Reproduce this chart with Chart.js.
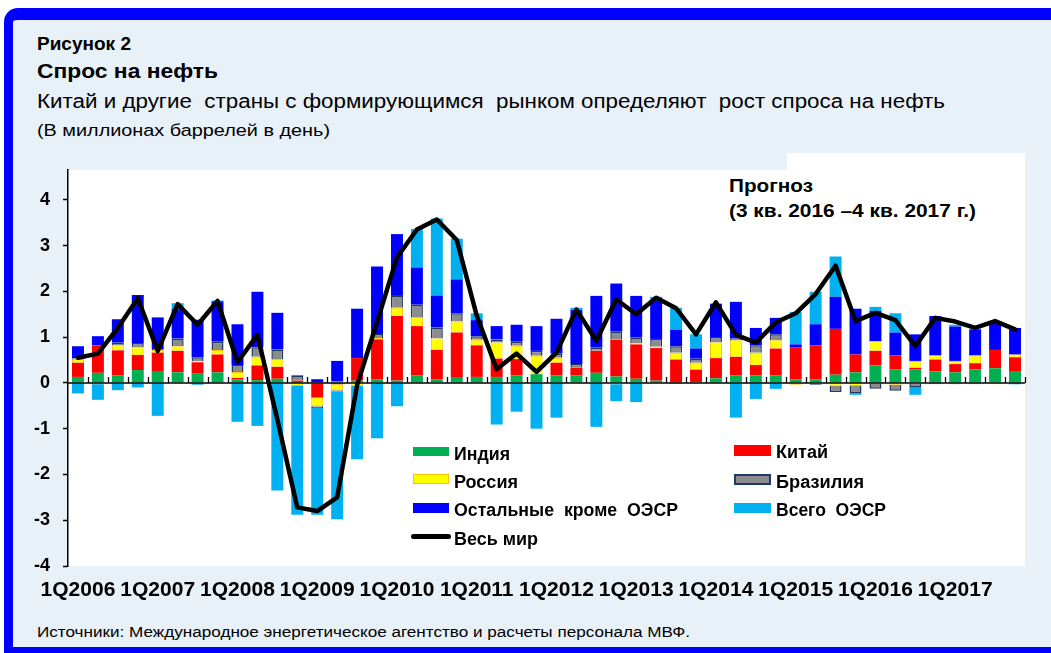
<!DOCTYPE html>
<html>
<head>
<meta charset="utf-8">
<script src="https://cdn.jsdelivr.net/npm/chart.js@4.4.1/dist/chart.umd.min.js"></script>
<style>
  html, body { margin: 0; padding: 0; }
  body { width: 1051px; height: 653px; overflow: hidden; position: relative; background: #ffffff;
         font-family: "Liberation Sans", Arial, sans-serif; color: #000; }
  #frame { position: absolute; left: 4px; top: 8px; width: 1047px; height: 645px; box-sizing: border-box;
           border-top: 12px solid #0000ff; border-left: 9px solid #0000ff; border-bottom: 6px solid #0000ff;
           border-top-left-radius: 14px; background: #e8f0f8; }
  .white { position: absolute; background: #ffffff; }
  .t { position: absolute; white-space: pre; transform-origin: 0 50%; line-height: 1; }
  .b { font-weight: bold; }
  .sw { position: absolute; box-sizing: border-box; }
  canvas { position: absolute; left: 0; top: 0; }
</style>
</head>
<body>
<div id="frame"></div>
<div class="white" style="left:68px;top:170px;width:957px;height:396px;"></div>
<div class="white" style="left:787px;top:153px;width:238px;height:17px;"></div>

<div class="t b" data-w="94"  style="left:37px;top:34.5px;font-size:18px;">Рисунок 2</div>
<div class="t b" data-w="181" style="left:37px;top:59.5px;font-size:21px;">Спрос на нефть</div>
<div class="t"   data-w="908" style="left:37px;top:91px;font-size:20px;">Китай и другие  страны с формирующимся  рынком определяют  рост спроса на нефть</div>
<div class="t"   data-w="293" style="left:37px;top:123px;font-size:16px;">(В миллионах баррелей в день)</div>
<div class="t"   data-w="653" style="left:37px;top:625px;font-size:14px;">Источники: Международное энергетическое агентство и расчеты персонала МВФ.</div>

<div class="t b" data-w="84"  style="left:729px;top:175.5px;font-size:19px;">Прогноз</div>
<div class="t b" data-w="247" style="left:729px;top:200.5px;font-size:19px;">(3 кв. 2016 –4 кв. 2017 г.)</div>

<canvas id="c" width="1051" height="653"></canvas>

<!-- legend -->
<div class="sw" style="left:413px;top:447px;width:36px;height:9px;background:#00b050;"></div>
<div class="t b" data-w="56"  style="left:454px;top:444.5px;font-size:18px;">Индия</div>
<div class="sw" style="left:413px;top:474px;width:36px;height:10px;background:#ffff00;border:1px solid #ffc000;"></div>
<div class="t b" data-w="64"  style="left:454px;top:472.5px;font-size:18px;">Россия</div>
<div class="sw" style="left:413px;top:503px;width:36px;height:10px;background:#0000ff;"></div>
<div class="t b" data-w="224" style="left:454px;top:501px;font-size:18px;">Остальные  кроме  ОЭСР</div>
<div class="sw" style="left:411px;top:534px;width:40px;height:5px;background:#000;border-radius:3px;"></div>
<div class="t b" data-w="84"  style="left:454px;top:529.5px;font-size:18px;">Весь мир</div>

<div class="sw" style="left:734px;top:445px;width:37px;height:11px;background:#ff0000;"></div>
<div class="t b" data-w="52"  style="left:776px;top:442.5px;font-size:18px;">Китай</div>
<div class="sw" style="left:734px;top:474px;width:37px;height:11px;background:#8c8c8c;border:2px solid #1f3864;"></div>
<div class="t b" data-w="88"  style="left:776px;top:472.5px;font-size:18px;">Бразилия</div>
<div class="sw" style="left:734px;top:503px;width:37px;height:10px;background:#00b0f0;"></div>
<div class="t b" data-w="110" style="left:776px;top:501px;font-size:18px;">Всего  ОЭСР</div>

<script>
const categories = [
  '1Q2006','2Q2006','3Q2006','4Q2006','1Q2007','2Q2007','3Q2007','4Q2007',
  '1Q2008','2Q2008','3Q2008','4Q2008','1Q2009','2Q2009','3Q2009','4Q2009',
  '1Q2010','2Q2010','3Q2010','4Q2010','1Q2011','2Q2011','3Q2011','4Q2011',
  '1Q2012','2Q2012','3Q2012','4Q2012','1Q2013','2Q2013','3Q2013','4Q2013',
  '1Q2014','2Q2014','3Q2014','4Q2014','1Q2015','2Q2015','3Q2015','4Q2015',
  '1Q2016','2Q2016','3Q2016','4Q2016','1Q2017','2Q2017','3Q2017','4Q2017'
];
const tickLabels = ['1Q2006','1Q2007','1Q2008','1Q2009','1Q2010','1Q2011','1Q2012','1Q2013','1Q2014','1Q2015','1Q2016','1Q2017'];
const yTicks = [-4,-3,-2,-1,0,1,2,3,4];

const india = [0.13,0.22,0.16,0.28,0.26,0.23,0.20,0.23,0.08,0.06,
               0.09,0.02,0.00,0.03,0.05,0.08,0.05,0.16,0.08,0.11,
               0.13,0.13,0.16,0.19,0.16,0.16,0.22,0.14,0.09,0.05,
               -0.02,0.02,0.10,0.16,0.16,0.16,0.08,0.08,0.18,0.23,
               0.38,0.29,0.29,0.25,0.23,0.29,0.32,0.26];
const china = [0.31,0.60,0.55,0.33,0.40,0.47,0.25,0.39,0.03,0.32,
               0.26,0.03,-0.32,-0.03,0.49,0.87,1.41,1.08,0.64,0.99,
               0.69,0.40,0.36,0.00,0.28,0.17,0.48,0.80,0.75,0.71,
               0.51,0.27,0.44,0.41,0.23,0.59,0.70,0.74,1.00,0.39,
               0.32,0.31,0.04,0.26,0.18,0.14,0.40,0.30];
const russia = [0.08,0.00,0.11,0.17,0.06,0.10,0.02,0.10,0.13,0.19,
                0.17,-0.07,-0.19,-0.13,-0.06,0.03,0.18,0.20,0.25,0.24,
                0.12,0.35,0.29,0.40,0.11,0.00,0.00,-0.03,0.02,0.03,
                0.15,0.15,0.34,0.36,0.27,0.18,-0.04,0.00,-0.06,-0.07,
                0.21,-0.04,0.15,0.09,0.07,0.17,-0.03,0.06];
const brazil = [0.02,-0.03,0.06,0.09,0.02,0.17,0.09,0.18,0.15,0.21,
                0.21,0.11,-0.04,-0.03,0.00,0.09,0.26,0.27,0.24,0.18,
                0.08,0.07,0.09,0.11,0.09,0.08,0.07,0.18,0.13,0.17,
                0.14,0.09,0.12,0.04,0.16,0.13,0.00,-0.04,-0.14,-0.15,
                -0.13,-0.13,-0.09,-0.03,-0.03,-0.03,0.00,0.00];
const otherNonOecd = [0.26,0.20,0.51,1.05,0.69,0.64,0.82,0.88,0.89,1.21,
                      0.80,0.01,0.08,0.45,1.08,1.47,1.35,0.81,0.69,0.74,
                      0.35,0.29,0.37,0.54,0.76,1.18,1.13,1.05,0.91,0.83,
                      0.36,0.22,0.73,0.80,0.38,0.36,0.06,0.46,0.70,1.00,
                      0.66,0.50,0.58,0.86,0.75,0.57,0.60,0.58];
const totalOecd = [-0.23,-0.34,-0.16,-0.10,-0.72,0.13,-0.04,0.02,-0.85,-0.94,
                   -2.35,-2.81,-2.33,-2.79,-1.61,-1.21,-0.51,0.84,1.69,0.89,
                   0.15,-0.91,-0.63,-1.00,-0.76,0.05,-0.96,-0.37,-0.42,0.09,
                   0.48,0.31,0.00,-0.76,-0.35,-0.13,0.71,0.71,0.88,-0.04,
                   0.09,0.42,-0.17,0.00,0.04,0.00,0.00,-0.03];
const world = [0.55,0.64,1.20,1.85,0.70,1.72,1.27,1.79,0.45,1.05,
               -0.80,-2.72,-2.80,-2.50,-0.05,1.33,2.74,3.35,3.57,3.12,
               1.47,0.30,0.64,0.24,0.66,1.60,0.92,1.82,1.50,1.86,
               1.63,1.06,1.76,1.05,0.88,1.32,1.52,1.94,2.56,1.35,
               1.53,1.37,0.80,1.42,1.34,1.20,1.35,1.17];

const FONT = '"Liberation Sans", Arial, sans-serif';

function bar(label, data, color, borderColor, borderWidth) {
  return { type: 'bar', label, data, backgroundColor: color, borderColor: borderColor || color,
           borderWidth: borderWidth || 0, categoryPercentage: 1.0, barPercentage: 0.6, order: 1 };
}

const zeroAndTicks = {
  id: 'zeroAndTicks',
  beforeDatasetDraw(chart, args) {
    if (args.meta.type !== 'line') return;
    const ctx = chart.ctx, x = chart.scales.x, y = chart.scales.y, area = chart.chartArea;
    const y0 = y.getPixelForValue(0);
    ctx.save();
    ctx.strokeStyle = '#000';
    ctx.lineWidth = 1.5;
    ctx.beginPath();
    ctx.moveTo(area.left, y0);
    ctx.lineTo(area.right, y0);
    ctx.stroke();
    const w = x.getPixelForValue(1) - x.getPixelForValue(0);
    ctx.lineWidth = 1.3;
    ctx.beginPath();
    for (let i = 1; i <= categories.length; i++) {
      const px = Math.round(x.getPixelForValue(i - 1) + w / 2) + 0.5;
      ctx.moveTo(px, y0);
      ctx.lineTo(px, y0 - 6);
    }
    ctx.stroke();
    ctx.restore();
  }
};

new Chart(document.getElementById('c'), {
  data: {
    labels: categories,
    datasets: [
      bar('Индия', india, '#00b050'),
      bar('Китай', china, '#ff0000'),
      bar('Россия', russia, '#ffff00', '#ffc000', 1),
      bar('Бразилия', brazil, '#8c8c8c', '#1f3864', 1.5),
      bar('Остальные кроме ОЭСР', otherNonOecd, '#0000ff'),
      bar('Всего ОЭСР', totalOecd, '#00b0f0'),
      { type: 'line', label: 'Весь мир', data: world, borderColor: '#000000', borderWidth: 4.5,
        pointRadius: 0, tension: 0, fill: false, stack: 'world', order: 0,
        borderCapStyle: 'round', borderJoinStyle: 'round' }
    ]
  },
  options: {
    responsive: false,
    animation: false,
    devicePixelRatio: 1,
    layout: { padding: { left: 0, top: 170, right: 26, bottom: 40 } },
    plugins: { legend: { display: false }, tooltip: { enabled: false } },
    scales: {
      x: {
        stacked: true,
        offset: true,
        grid: { display: false, drawTicks: false },
        border: { display: false },
        ticks: {
          autoSkip: false, maxRotation: 0, minRotation: 0, padding: 12,
          color: '#000', font: { family: FONT, size: 21, weight: 'bold' },
          callback: (v, i) => tickLabels.includes(categories[i]) ? categories[i] : ''
        },
        afterFit: s => { s.height = 47; }
      },
      y: {
        stacked: true,
        min: -4, max: 4.65,
        afterBuildTicks: s => { s.ticks = yTicks.map(v => ({ value: v })); },
        grid: { color: 'rgba(0,0,0,0)', tickColor: '#000', tickLength: 5, tickWidth: 1.5 },
        border: { display: true, color: '#000', width: 1.5 },
        ticks: { color: '#000', padding: 13, font: { family: FONT, size: 18, weight: 'bold' } },
        afterFit: s => { s.width = 68; }
      }
    }
  },
  plugins: [zeroAndTicks]
});

function fit() {
  document.querySelectorAll('[data-w]').forEach(el => {
    el.style.transform = 'none';
    const w = el.getBoundingClientRect().width;
    if (w > 0) el.style.transform = 'scaleX(' + (parseFloat(el.dataset.w) / w) + ')';
  });
}
fit();
if (document.fonts && document.fonts.ready) document.fonts.ready.then(fit);
</script>
</body>
</html>
